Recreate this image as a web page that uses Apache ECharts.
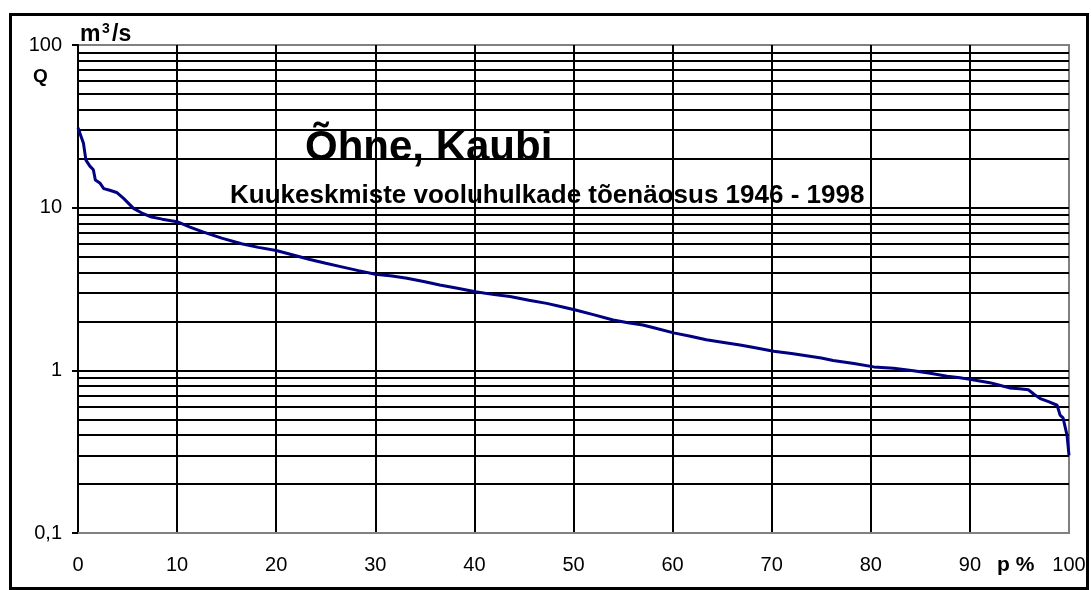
<!DOCTYPE html>
<html>
<head>
<meta charset="utf-8">
<script src="https://cdn.jsdelivr.net/npm/echarts@6/dist/echarts.min.js"></script>
<style>
    html, body { margin: 0; padding: 0; background: #fff; }
    #chart { width: 1091px; height: 590px; }
</style>
</head>
<body>
<div id="chart"></div>
<script>
    // kestvuskõver: tõenäosus p (%) ja vooluhulk Q (m3/s), loetud pildilt
    var pVals = [0, 0.3, 0.55, 0.8, 1.2, 1.55, 1.75, 2.2, 2.6, 3.2, 3.9, 4.6, 5.6, 6.4, 7.3, 8.5,
        10, 11.3, 12.6, 14.5, 16.5, 18.2, 20, 21.8, 23.4, 25, 26.5, 28.3, 30, 31.7, 33.2, 35,
        36.5, 38.3, 40.1, 42, 43.6, 45.5, 47.3, 48.8, 50.2, 52, 54, 55.5, 57, 58.5, 60.1, 61.8,
        63.4, 65, 66.8, 68.2, 70.2, 72, 73.5, 75, 76.2, 78.3, 80.3, 82.3, 84.3, 86, 87.7, 89,
        90, 91, 92, 93, 94, 95, 95.9, 96.5, 97.1, 98, 98.8, 99.1, 99.4, 99.6, 99.8, 100];
    var qVals = [31, 27.5, 24.9, 19.6, 18, 17.1, 14.8, 14.2, 13.1, 12.8, 12.4, 11.4, 9.9, 9.3, 8.8, 8.5,
        8.2, 7.6, 7.1, 6.5, 6.0, 5.7, 5.45, 5.1, 4.8, 4.55, 4.34, 4.1, 3.9, 3.8, 3.68, 3.5,
        3.35, 3.2, 3.04, 2.92, 2.84, 2.7, 2.58, 2.46, 2.35, 2.2, 2.04, 1.96, 1.9, 1.8, 1.7, 1.62,
        1.54, 1.49, 1.43, 1.38, 1.31, 1.27, 1.23, 1.19, 1.15, 1.1, 1.05, 1.03, 0.995, 0.96, 0.92, 0.9,
        0.88, 0.86, 0.84, 0.81, 0.78, 0.77, 0.76, 0.71, 0.67, 0.64, 0.61, 0.53, 0.51, 0.50, 0.40, 0.30];
    // logaritmilise telje vahejooned
    var minorQ = [0.2, 0.3, 0.4, 0.5, 0.6, 0.7, 0.8, 0.9,
        2, 3, 4, 5, 6, 7, 8, 9,
        20, 30, 40, 50, 60, 70, 80, 90];

    var titleText = 'Õhne, Kaubi';
    var subText = 'Kuukeskmiste vooluhulkade tõenäosus 1946 - 1998';

    var curve = [];
    for (var i = 0; i < pVals.length; i++) {
        curve.push([pVals[i], qVals[i]]);
    }
    var minorLines = [];
    for (var j = 0; j < minorQ.length; j++) {
        minorLines.push({ yAxis: minorQ[j] });
    }

    var chart = echarts.init(document.getElementById('chart'));
    var font = 'Liberation Sans, Arial, sans-serif';
    var option = {
        animation: false,
        backgroundColor: '#fff',
        grid: {
            left: 78,
            right: 22,
            top: 45,
            bottom: 57,
            show: true,
            borderColor: '#808080',
            borderWidth: 2
        },
        xAxis: {
            type: 'value',
            min: 0,
            max: 100,
            interval: 10,
            axisLine: { show: true, lineStyle: { color: '#808080', width: 2 } },
            axisTick: { show: false },
            axisLabel: { margin: 22, fontSize: 20, color: '#000', fontFamily: font },
            splitLine: { show: true, showMinLine: false, showMaxLine: false, lineStyle: { color: '#000', width: 2 } }
        },
        yAxis: {
            type: 'log',
            logBase: 10,
            min: 0.1,
            max: 100,
            axisLine: { show: true, lineStyle: { color: '#000', width: 2 } },
            axisTick: { show: true, length: 6, lineStyle: { color: '#000', width: 2 } },
            axisLabel: {
                margin: 16,
                fontSize: 20,
                color: '#000',
                fontFamily: font,
                formatter: function (v) {
                    return String(+v.toPrecision(6)).replace('.', ',');
                }
            },
            splitLine: { show: true, showMinLine: false, showMaxLine: false, lineStyle: { color: '#000', width: 2 } }
        },
        graphic: [
            { type: 'rect', shape: { x: 10.5, y: 14.5, width: 1077, height: 574 }, style: { fill: 'none', stroke: '#000', lineWidth: 3 }, silent: true },
            { type: 'text', left: 80, top: 23, style: { text: 'm', font: 'bold 23px ' + font, fill: '#000' } },
            { type: 'text', left: 102, top: 22, style: { text: '3', font: 'bold 14px ' + font, fill: '#000' } },
            { type: 'text', left: 112, top: 23, style: { text: '/s', font: 'bold 23px ' + font, fill: '#000' } },
            { type: 'text', left: 33, top: 67, style: { text: 'Q', font: 'bold 19px ' + font, fill: '#000' } },
            { type: 'text', left: 997, top: 555, style: { text: 'p %', font: 'bold 21px ' + font, fill: '#000' } },
            { type: 'text', left: 305, top: 127, style: { text: titleText, font: 'bold 42px ' + font, fill: '#000' } },
            { type: 'text', left: 230, top: 183, style: { text: subText, font: 'bold 26px ' + font, fill: '#000' } }
        ],
        series: [{
            type: 'line',
            data: curve,
            showSymbol: false,
            z: 3,
            lineStyle: { color: '#000080', width: 3 },
            markLine: {
                silent: true,
                z: 1,
                symbol: ['none', 'none'],
                label: { show: false },
                lineStyle: { color: '#000', width: 2, type: 'solid' },
                emphasis: { disabled: true },
                data: minorLines
            }
        }]
    };
    chart.setOption(option);
</script>
</body>
</html>
